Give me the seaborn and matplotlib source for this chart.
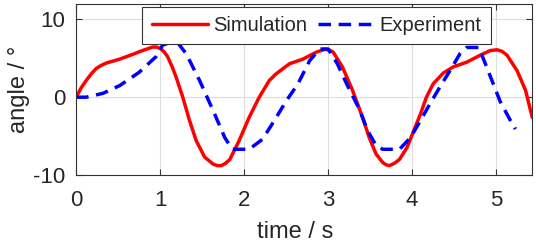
import matplotlib
matplotlib.use("Agg")
import matplotlib.pyplot as plt
import seaborn as sns

# === Data ===
sim_t = [0, 0.06, 0.12, 0.18, 0.24, 0.30, 0.36, 0.52, 0.67, 0.79, 0.91, 0.96, 1.01, 1.05,
         1.09, 1.14, 1.19, 1.27, 1.35, 1.43, 1.53, 1.63, 1.68, 1.73, 1.78, 1.83, 1.94,
         2.06, 2.18, 2.30, 2.38, 2.54, 2.70, 2.86, 2.96, 3.01, 3.06, 3.17, 3.29, 3.41,
         3.49, 3.57, 3.65, 3.69, 3.73, 3.79, 3.85, 3.94, 4.02, 4.10, 4.17, 4.25, 4.37,
         4.49, 4.65, 4.81, 4.93, 5.01, 5.07, 5.13, 5.25, 5.35, 5.43]
sim_angle = [0, 1.2, 2.15, 3.0, 3.7, 4.1, 4.4, 4.9, 5.5, 6.0, 6.45, 6.45, 6.2, 5.8,
             5.2, 4.0, 2.6, 0, -3.0, -5.6, -7.7, -8.6, -8.8, -8.8, -8.5, -8.0, -5.6,
             -2.6, 0, 2.15, 3.0, 4.3, 4.9, 5.8, 6.15, 6.1, 5.8, 3.9, 0.9, -2.6,
             -5.2, -7.3, -8.4, -8.7, -8.8, -8.5, -8.0, -6.45, -4.3, -2.15, 0, 1.7, 3.1,
             3.9, 4.5, 5.4, 6.0, 6.1, 5.9, 5.4, 3.4, 0.9, -2.6]

exp_t = [0, 0.12, 0.32, 0.52, 0.75, 0.95, 1.03, 1.11, 1.21, 1.31, 1.47, 1.63, 1.77,
         1.86, 2.06, 2.22, 2.36, 2.50, 2.64, 2.78, 2.90, 3.00, 3.11, 3.23, 3.37, 3.47,
         3.57, 3.65, 3.85, 3.98, 4.10, 4.21, 4.33, 4.45, 4.57, 4.65, 4.79, 4.85, 4.95,
         5.05, 5.17, 5.23]
exp_angle = [0, 0, 0.5, 1.5, 3.2, 5.2, 6.7, 7.0, 7.0, 5.6, 2.15, -1.7, -5.2,
             -6.7, -6.7, -5.4, -3.0, -0.5, 1.7, 4.7, 6.2, 6.2, 4.3, 1.5, -1.5, -4.3,
             -6.2, -6.7, -6.7, -5.2, -3.0, -0.9, 1.3, 3.4, 5.6, 6.4, 6.4, 4.9, 2.15,
             -0.6, -3.0, -4.1]

x_ticks = [0, 1, 2, 3, 4, 5]
y_ticks = [-10, 0, 10]

# === Style ===
sns.set_style("ticks")
plt.rcParams["font.family"] = ["Liberation Sans", "DejaVu Sans"]
plt.rcParams["axes.unicode_minus"] = False

fig = plt.figure(figsize=(5.36, 2.45), dpi=100)
ax = fig.add_axes([0.142, 0.286, 0.851, 0.698])

sns.lineplot(x=sim_t, y=sim_angle, ax=ax, color="#ff0000", linewidth=2.5,
             label="Simulation", sort=False)
sns.lineplot(x=exp_t, y=exp_angle, ax=ax, color="#0000ff", linewidth=2.5,
             label="Experiment", sort=False)
ax.lines[1].set_dashes([3.6, 2.2])

ax.set_xlim(0, 5.43)
ax.set_ylim(-10, 12.0)
ax.set_xticks(x_ticks)
ax.set_yticks(y_ticks)
ax.grid(True, color="#dcdcdc", linewidth=0.8)
ax.set_axisbelow(True)
ax.tick_params(direction="in", top=True, right=True, length=4, width=0.8,
               color="#333333", labelsize=16)
ax.tick_params(axis="x", pad=11)
ax.tick_params(axis="y", pad=8)
for s in ax.spines.values():
    s.set_color("#333333")
    s.set_linewidth(0.8)

ax.set_xlabel("time / s", fontsize=17, labelpad=7)
ax.xaxis.label.set_x(0.481)
ax.set_ylabel("angle / °", fontsize=17, labelpad=2)

leg = ax.legend(loc="upper center", bbox_to_anchor=(0.527, 0.982), ncol=2, fontsize=14.5,
                frameon=True, fancybox=False, framealpha=1, edgecolor="#333333",
                handlelength=2.8, handletextpad=0.25, columnspacing=0.55,
                borderpad=0.45, borderaxespad=0)
leg.get_frame().set_linewidth(0.8)

fig.savefig("out.png", dpi=100)
plt.close(fig)
